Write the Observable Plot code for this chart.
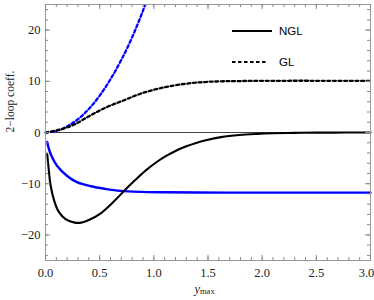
<!DOCTYPE html>
<html><head><meta charset="utf-8">
<script src="https://cdn.jsdelivr.net/npm/d3@7"></script>
<script src="https://cdn.jsdelivr.net/npm/@observablehq/plot@0.6"></script>
<style>
html,body{margin:0;padding:0;background:#fff;}
#wrap{position:relative;width:374px;height:300px;}
#legend{position:absolute;left:0;top:0;width:374px;height:300px;pointer-events:none;}
</style>
</head><body>
<div id="wrap"><div id="chart"></div>
<svg id="legend" width="374" height="300"></svg></div>
<script>
// ---- data ----
const nglX = [0.016, 0.031, 0.046, 0.08, 0.12, 0.185, 0.27, 0.33, 0.4, 0.51, 0.63, 0.74, 0.833, 0.926, 1.02, 1.11, 1.2, 1.3, 1.39, 1.48, 1.62, 1.79, 1.95, 2.1, 2.3, 2.5, 2.75, 3.0];
const nglY = [-4.2, -7.5, -10.2, -13.3, -15.4, -16.9, -17.6, -17.6, -17.1, -15.8, -13.5, -11.1, -9.2, -7.4, -5.86, -4.63, -3.6, -2.7, -2.04, -1.52, -0.9, -0.48, -0.27, -0.15, -0.07, -0.03, -0.01, 0];
const blueX = [0.016, 0.031, 0.062, 0.108, 0.2, 0.29, 0.42, 0.55, 0.694, 0.88, 1.1, 1.4, 1.8, 2.2, 2.6, 3.0];
const blueY = [-1.85, -3.2, -4.9, -6.55, -8.5, -9.7, -10.5, -11.0, -11.4, -11.6, -11.68, -11.72, -11.75, -11.75, -11.75, -11.75];
const glX = [0.0, 0.14, 0.26, 0.42, 0.57, 0.725, 0.88, 1.05, 1.25, 1.5, 1.8, 2.2, 2.6, 3.0];
const glY = [0.0, 0.6, 1.5, 3.4, 5.0, 6.3, 7.6, 8.6, 9.4, 9.9, 10.05, 10.1, 10.1, 10.1];
const blueDotX = [0.0, 0.1, 0.2, 0.3, 0.4, 0.5, 0.6, 0.7, 0.8, 0.9, 0.95];
const blueDotY = [0.0, 0.3, 1.2, 2.6, 4.6, 7.2, 10.4, 14.2, 18.6, 23.8, 26.6];
const xMajor = [0, 0.5, 1, 1.5, 2, 2.5, 3];
const xMinor = d3.range(0, 3.001, 0.1);
const yMajor = [-20, -10, 0, 10, 20];
const yMinor = d3.range(-24, 24.1, 2);
const legendLabels = ["NGL", "GL"];
const yLabel = "2\u2212loop coeff.";

const toPts = (xs, ys) => xs.map((x, i) => ({x, y: ys[i]}));
const ngl = toPts(nglX, nglY), blue = toPts(blueX, blueY), gl = toPts(glX, glY), blueDot = toPts(blueDotX, blueDotY);

const W = 374, H = 300, mL = 45, mR = 4, mT = 4, mB = 40;
const fw = W - mL - mR, fh = H - mT - mB;
const tickCol = "#8a8a8a";
const serif = "'Liberation Serif', 'Times New Roman', serif";
const fmtY = d => d < 0 ? "\u2212" + (-d) : String(d);
const fmtX = d3.format(".1f");

const plot = Plot.plot({
  width: W, height: H,
  marginLeft: mL, marginRight: mR, marginTop: mT, marginBottom: mB,
  style: {fontFamily: serif, fontSize: "12.5px", background: "#fff", color: "#222"},
  x: {domain: [0, 3], axis: null},
  y: {domain: [-25, 25], axis: null},
  marks: [
    Plot.ruleY([0], {stroke: "#444", strokeWidth: 1}),
    Plot.line(blueDot, {x: "x", y: "y", stroke: "#0000ff", strokeWidth: 2.3, strokeDasharray: "3,2.6", curve: "catmull-rom", clip: true}),
    Plot.line(gl, {x: "x", y: "y", stroke: "#000", strokeWidth: 2.3, strokeDasharray: "3,2.6", curve: "catmull-rom"}),
    Plot.line(blue, {x: "x", y: "y", stroke: "#0000ff", strokeWidth: 2.4, curve: "catmull-rom"}),
    Plot.line(ngl, {x: "x", y: "y", stroke: "#000", strokeWidth: 2.1, curve: "catmull-rom"}),
    Plot.frame({stroke: "#9a9a9a"}),
    // inward ticks on all four sides
    Plot.tickX(xMinor, {x: d => d, insetTop: fh - 3, stroke: tickCol}),
    Plot.tickX(xMinor, {x: d => d, insetBottom: fh - 3, stroke: tickCol}),
    Plot.tickX(xMajor, {x: d => d, insetTop: fh - 5, stroke: tickCol}),
    Plot.tickX(xMajor, {x: d => d, insetBottom: fh - 5, stroke: tickCol}),
    Plot.tickY(yMinor, {y: d => d, insetRight: fw - 3, stroke: tickCol}),
    Plot.tickY(yMinor, {y: d => d, insetLeft: fw - 3, stroke: tickCol}),
    Plot.tickY(yMajor, {y: d => d, insetRight: fw - 5, stroke: tickCol}),
    Plot.tickY(yMajor, {y: d => d, insetLeft: fw - 5, stroke: tickCol}),
    Plot.text(xMajor.slice(0, -1), {x: d => d, text: fmtX, frameAnchor: "bottom", dy: 12, lineAnchor: "middle", fontFamily: serif, fontSize: 12.5, fill: "#222"}),
    Plot.text(xMajor.slice(-1), {x: d => d, text: fmtX, frameAnchor: "bottom", dy: 12, dx: -4, lineAnchor: "middle", fontFamily: serif, fontSize: 12.5, fill: "#222"}),
    Plot.text(yMajor, {y: d => d, text: fmtY, frameAnchor: "left", dx: -5, textAnchor: "end", lineAnchor: "middle", fontFamily: serif, fontSize: 12.5, fill: "#222"}),
    Plot.text([yLabel], {text: d => d, frameAnchor: "left", rotate: -90, dx: -35, fontFamily: serif, fontSize: 11.5, fill: "#222", lineAnchor: "middle"}),
    Plot.text(["y"], {text: d => d, frameAnchor: "bottom", textAnchor: "end", dx: -8, dy: 28, fontFamily: serif, fontStyle: "italic", fontSize: 12.5, fill: "#222", lineAnchor: "middle"}),
    Plot.text(["max"], {text: d => d, frameAnchor: "bottom", textAnchor: "start", dx: -8, dy: 31, fontFamily: serif, fontSize: 8.5, fill: "#222", lineAnchor: "middle"})
  ]
});
document.getElementById("chart").appendChild(plot);

// legend overlay
const lg = d3.select("#legend");
const legendStyles = [{dash: null, y: 31}, {dash: "3.5,2.5", y: 62}];
legendLabels.forEach((lab, i) => {
  const s = legendStyles[i];
  lg.append("line").attr("x1", 232).attr("x2", i === 0 ? 272 : 268).attr("y1", s.y).attr("y2", s.y)
    .attr("stroke", "#000").attr("stroke-width", 2.2).attr("stroke-dasharray", s.dash);
  lg.append("text").attr("x", 279).attr("y", s.y).attr("dy", "0.36em")
    .attr("font-family", "'Liberation Sans', Arial, sans-serif").attr("font-size", 11.5).attr("fill", "#000").text(lab);
});
</script>
</body></html>
